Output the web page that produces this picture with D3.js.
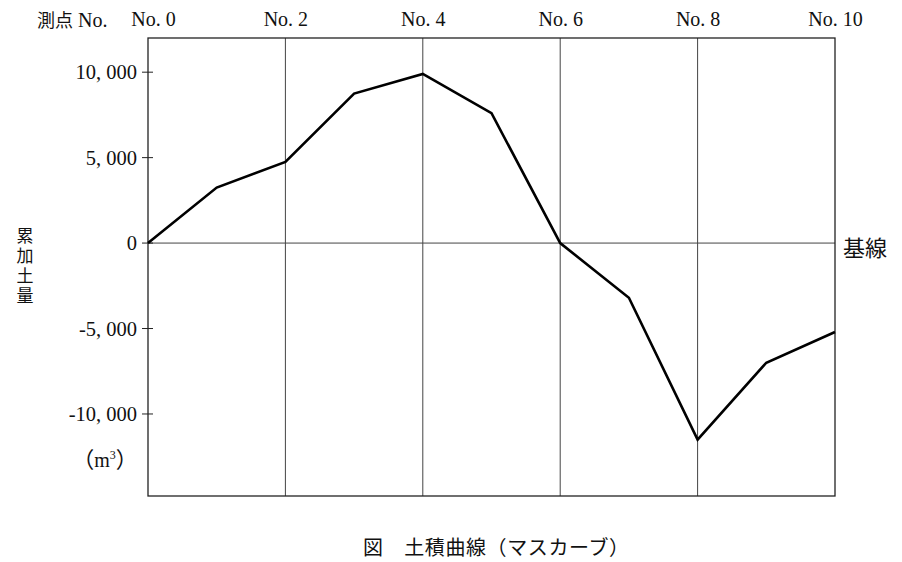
<!DOCTYPE html>
<html>
<head>
<meta charset="utf-8">
<script src="https://cdn.jsdelivr.net/npm/d3@7"></script>
<style>
  body { margin: 0; background: #fff; }
  text { font-family: "Liberation Serif", "Noto Sans CJK JP", serif; fill: #111; }
  .jp { font-family: "Noto Sans CJK JP", sans-serif; }
</style>
</head>
<body>
<div id="vis"></div>
<script>
const stations = [0, 1, 2, 3, 4, 5, 6, 7, 8, 9, 10];
const cumVolume = [0, 3250, 4750, 8750, 9900, 7600, 0, -3200, -11500, -7000, -5200];
const topTicks = [0, 2, 4, 6, 8, 10];
const gridStations = [2, 4, 6, 8];
const yTicks = [10000, 5000, 0, -5000, -10000];

const svg = d3.select("#vis").append("svg").attr("width", 902).attr("height", 562);

const x = d3.scaleLinear().domain([0, 10]).range([148, 835]);
const y = d3.scaleLinear().domain([-14800, 12000]).range([496, 38]);

// grid lines
svg.selectAll(".grid")
  .data(gridStations)
  .enter()
  .append("line")
  .attr("x1", d => x(d)).attr("x2", d => x(d))
  .attr("y1", y(12000)).attr("y2", y(-14800))
  .attr("stroke", "#444").attr("stroke-width", 1);

// baseline
svg.append("line")
  .attr("x1", x(0)).attr("x2", x(10))
  .attr("y1", y(0)).attr("y2", y(0))
  .attr("stroke", "#444").attr("stroke-width", 1);

// frame
svg.append("rect")
  .attr("x", x(0)).attr("y", y(12000))
  .attr("width", x(10) - x(0)).attr("height", y(-14800) - y(12000))
  .attr("fill", "none").attr("stroke", "#222").attr("stroke-width", 1.3);

// left axis ticks
const fmt = d3.format(",");
const yAxis = d3.axisLeft(y).tickValues(yTicks).tickSize(0).tickPadding(11)
  .tickFormat(d => fmt(d).replace(/,/g, ", ").replace("−", "-"));
const ga = svg.append("g").attr("transform", `translate(${x(0)},0)`).call(yAxis);
ga.select(".domain").remove();
ga.selectAll("text").attr("font-size", 20.5).attr("font-family", "Liberation Serif").attr("fill", "#111");
svg.selectAll(".ytick")
  .data(yTicks)
  .enter()
  .append("line")
  .attr("x1", x(0) - 6).attr("x2", x(0) + 5)
  .attr("y1", d => y(d)).attr("y2", d => y(d))
  .attr("stroke", "#222").attr("stroke-width", 1);

// top station labels
const xAxis = d3.axisTop(x).tickValues(topTicks).tickSize(0).tickPadding(12)
  .tickFormat(d => "No. " + d);
const gt = svg.append("g").attr("transform", `translate(0,${y(12000)})`).call(xAxis);
gt.select(".domain").remove();
gt.selectAll("text").attr("font-size", 20).attr("font-family", "Liberation Serif").attr("fill", "#111");
gt.selectAll(".tick").filter(d => d === 0).select("text").attr("dx", 5);

svg.append("text")
  .attr("x", 37).attr("y", 27).attr("font-size", 20)
  .html('<tspan class="jp" font-size="18">測点</tspan> No.');

// mass curve
const line = d3.line().x((d, i) => x(stations[i])).y(d => y(d));
svg.append("path")
  .datum(cumVolume)
  .attr("d", line)
  .attr("fill", "none")
  .attr("stroke", "#000")
  .attr("stroke-width", 2.6)
  .attr("stroke-linejoin", "miter");

// y label, vertical
svg.append("text")
  .attr("class", "jp")
  .attr("x", 25).attr("y", 227)
  .attr("font-size", 17)
  .attr("letter-spacing", 3)
  .style("writing-mode", "vertical-rl")
  .text("累加土量");

svg.append("text")
  .attr("x", 105).attr("y", 467).attr("text-anchor", "middle").attr("font-size", 20)
  .html('<tspan class="jp" font-size="22">（</tspan>m<tspan font-size="12" dy="-8">3</tspan><tspan class="jp" font-size="22" dy="8">）</tspan>');

svg.append("text")
  .attr("class", "jp")
  .attr("x", 843).attr("y", 256).attr("font-size", 22)
  .text("基線");

svg.append("text")
  .attr("class", "jp")
  .attr("x", 363).attr("y", 555).attr("font-size", 20)
  .attr("letter-spacing", 0.6)
  .text("図　土積曲線（マスカーブ）");
</script>
</body>
</html>
